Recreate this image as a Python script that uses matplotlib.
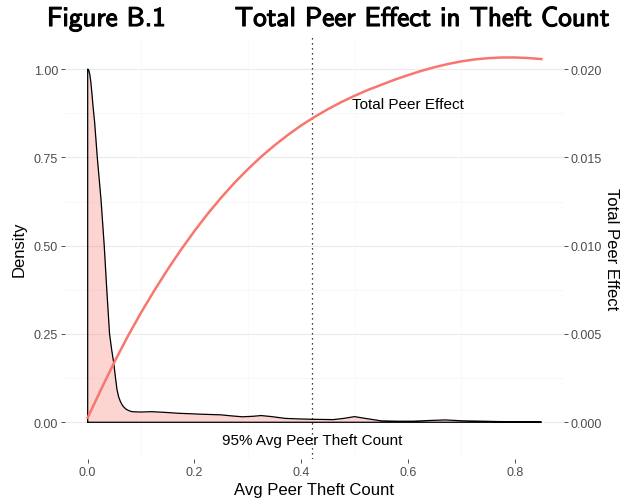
import numpy as np
import matplotlib
matplotlib.use("Agg")
import matplotlib.pyplot as plt
import matplotlib.patheffects as pe

# density of average peer theft count
dens_x = [0.000, 0.002, 0.004, 0.006, 0.008, 0.010, 0.013, 0.0155, 0.018, 0.0215,
          0.025, 0.028, 0.031, 0.0335, 0.036, 0.0385, 0.041, 0.045, 0.049, 0.052,
          0.055, 0.058, 0.0615, 0.066, 0.071, 0.077, 0.083, 0.090, 0.100, 0.120,
          0.145, 0.170, 0.210, 0.250, 0.270, 0.290, 0.310, 0.325, 0.345, 0.370,
          0.395, 0.420, 0.460, 0.480, 0.500, 0.520, 0.550, 0.580, 0.610, 0.640,
          0.670, 0.690, 0.705, 0.740, 0.770, 0.810, 0.850]
dens_y = [1.000, 0.997, 0.985, 0.962, 0.930, 0.895, 0.850, 0.800, 0.750, 0.690,
          0.630, 0.565, 0.500, 0.435, 0.370, 0.310, 0.250, 0.205, 0.166, 0.127,
          0.092, 0.072, 0.058, 0.046, 0.038, 0.033, 0.030, 0.0295, 0.029, 0.030,
          0.028, 0.0255, 0.023, 0.021, 0.018, 0.0155, 0.017, 0.019, 0.016, 0.011,
          0.0095, 0.0085, 0.0075, 0.011, 0.016, 0.011, 0.004, 0.003, 0.003, 0.005,
          0.0066, 0.005, 0.004, 0.003, 0.002, 0.0015, 0.001]

# total peer effect over the same range
tpe_x = [0.000, 0.025, 0.050, 0.075, 0.100, 0.125, 0.150, 0.175, 0.200, 0.225,
         0.250, 0.275, 0.300, 0.325, 0.350, 0.375, 0.400, 0.425, 0.450, 0.475,
         0.500, 0.525, 0.550, 0.575, 0.600, 0.625, 0.650, 0.675, 0.700, 0.725,
         0.750, 0.775, 0.800, 0.825, 0.850]
tpe_y = [0.00026, 0.00186, 0.00341, 0.00486, 0.00621, 0.00747, 0.00866, 0.00978, 0.01083, 0.01181,
         0.01272, 0.01356, 0.01433, 0.01504, 0.01568, 0.01627, 0.01681, 0.01729, 0.01773, 0.01813,
         0.01849, 0.01882, 0.01911, 0.01940, 0.01966, 0.01990, 0.02011, 0.02029, 0.02044, 0.02055,
         0.02062, 0.02066, 0.02066, 0.02063, 0.02057]

p95 = 0.421
scale = 0.02

plt.rcParams['font.family'] = ['Liberation Sans', 'DejaVu Sans']

fig = plt.figure(figsize=(6.23, 5.02), dpi=100)
ax = fig.add_axes([65/623, 42/502, 499/623, 422/502])

ax.set_xlim(-0.0425, 0.8925)
ax.set_ylim(-0.104, 1.091)

# grid
for v in [0.125, 0.375, 0.625, 0.875]:
    ax.axhline(v, color='#F4F4F4', lw=0.5, zorder=0)
for v in [0, 0.25, 0.5, 0.75, 1.0]:
    ax.axhline(v, color='#EBEBEB', lw=0.8, zorder=0)
for v in [0.1, 0.3, 0.5, 0.7]:
    ax.axvline(v, color='#F7F7F7', lw=0.5, zorder=0)

ax.fill_between(dens_x, 0, dens_y, color='#F8766D', alpha=0.3, lw=0, zorder=1)
px = [dens_x[0]] + dens_x + [dens_x[-1], dens_x[0]]
py = [0] + dens_y + [0, 0]
ax.plot(px, py, color='black', lw=0.9, zorder=2, solid_joinstyle='round')

ax.axvline(p95, color='black', ls=(0, (1, 3)), lw=0.9, zorder=3)

ax.plot(tpe_x, [v / scale for v in tpe_y], color='#F8766D', lw=1.8, zorder=4,
        solid_joinstyle='round')

ax.text(0.6, 0.9, 'Total Peer Effect', ha='center', va='center', fontsize=11, color='black')
ax.text(p95, -0.05, '95% Avg Peer Theft Count', ha='center', va='center', fontsize=11,
        color='black')

for s in ax.spines.values():
    s.set_visible(False)

ax.set_xticks([0.0, 0.2, 0.4, 0.6, 0.8])
ax.set_xticklabels(['0.0', '0.2', '0.4', '0.6', '0.8'])
ax.set_yticks([0, 0.25, 0.5, 0.75, 1.0])
ax.set_yticklabels(['0.00', '0.25', '0.50', '0.75', '1.00'])
ax.tick_params(colors='#4D4D4D', labelsize=9, length=3, width=0.6, pad=2)
ax.tick_params(axis='both', color='#333333')
ax.set_xlabel('Avg Peer Theft Count', fontsize=12, labelpad=3)
ax.set_ylabel('Density', fontsize=12, labelpad=5)

ax2 = ax.twinx()
ax2.set_ylim(-0.104 * scale, 1.091 * scale)
ax2.set_yticks([0, 0.005, 0.010, 0.015, 0.020])
ax2.set_yticklabels(['0.000', '0.005', '0.010', '0.015', '0.020'])
ax2.tick_params(colors='#4D4D4D', labelsize=9, length=3, width=0.6, pad=2)
ax2.tick_params(axis='y', color='#333333')
for s in ax2.spines.values():
    s.set_visible(False)
ax2.set_ylabel('Total Peer Effect', fontsize=12, rotation=-90, labelpad=12)

# title in two pieces
bold = [pe.withStroke(linewidth=0.8, foreground='black')]
t1 = fig.text(47/623, 1 - 27/502, 'Figure B.1', ha='left', va='baseline',
              fontsize=19.5, family='cmss10', color='black')
t2 = fig.text(609/623, 1 - 27/502, 'Total Peer Effect in Theft Count', ha='right',
              va='baseline', fontsize=19.5, family='cmss10', color='black')
t1.set_path_effects(bold)
t2.set_path_effects(bold)

fig.savefig('out.png', dpi=100)
